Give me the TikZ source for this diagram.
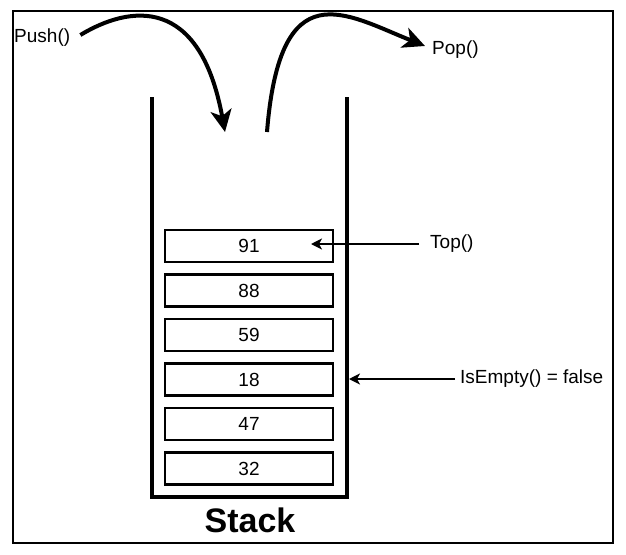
\documentclass[tikz,border=0pt]{standalone}
\usepackage{fontspec}
\setmainfont{Liberation Sans}
\usetikzlibrary{arrows.meta}
\begin{document}
\begin{tikzpicture}[x=1pt,y=-1pt,
    zelle/.style={draw,line width=2.2pt,minimum width=168pt,minimum height=32pt,inner sep=0pt,font=\fontsize{19}{22}\selectfont},
    txt/.style={inner sep=0pt,anchor=west,font=\fontsize{19}{22}\selectfont},
    bogen/.style={line width=4pt,-{Stealth[length=22pt,width=21pt,inset=6pt]}},
    zeiger/.style={line width=1.8pt,-{Stealth[length=11pt,width=11pt,inset=3pt]}}]
    \useasboundingbox (0,0) rectangle (626,554);
    % Rahmen
    \draw[line width=2.5pt] (13,11) rectangle (613,543);
    % Behaelter
    \draw[line width=4.5pt] (152,97) -- (152,497) -- (347,497) -- (347,97);
    % Zellen
    \foreach \val [count=\i] in {91,88,59,18,47,32}
        \node[zelle] (z\i) at (249,{246+44.5*(\i-1)}) {\val};
    \node[font=\bfseries\fontsize{34}{40}\selectfont] (stack) at (250,520) {Stack};
    % Beschriftungen
    \node[txt] (push) at (14,38) {Push()};
    \node[txt] (pop) at (432,50) {Pop()};
    \node[txt] (top) at (430,244) {Top()};
    \node[txt] (empty) at (460,379) {IsEmpty() = false};
    % Punkte
    \coordinate (rein) at (225,132);
    \coordinate (raus) at (267,132);
    \coordinate (toptip) at (311,244);
    \coordinate (emptytip) at (349,379);
    % Pfeile
    \draw[bogen] ([shift={(10,-3)}]push.east) .. controls (130,5) and (200,-5) .. (rein);
    \draw[bogen] (raus) .. controls (280,-30) and (345,14) .. ([shift={(-7,-4)}]pop.west);
    \draw[zeiger] ([xshift=-11pt]top.west) -- (toptip);
    \draw[zeiger] ([xshift=-5pt]empty.west) -- (emptytip);
\end{tikzpicture}
\end{document}
